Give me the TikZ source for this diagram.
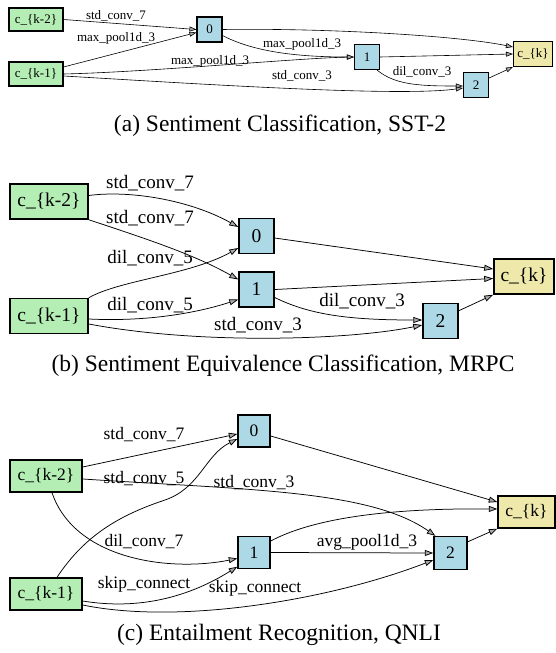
\documentclass[tikz,border=0pt]{standalone}
\usepackage{fontspec}
\setmainfont{Liberation Serif}
\usetikzlibrary{arrows.meta,calc}
\definecolor{nodegreen}{HTML}{B4EEB4}
\definecolor{nodeblue}{HTML}{ADD8E6}
\definecolor{nodegold}{HTML}{EEE8AA}
\definecolor{tipgray}{HTML}{A8A8A8}
\tikzset{
  cell/.style={draw=black, rectangle, inner sep=0pt},
  inbox/.style={cell, fill=nodegreen},
  midbox/.style={cell, fill=nodeblue},
  outbox/.style={cell, fill=nodegold},
  sizeA/.style={line width=1.1pt, font=\fontsize{13}{13}\selectfont},
  sizeB/.style={line width=1.5pt, font=\fontsize{19.5}{19.5}\selectfont},
  sizeC/.style={line width=1.4pt, font=\fontsize{17.5}{17.5}\selectfont},
  lblA/.style={inner sep=0pt, font=\fontsize{13}{13}\selectfont},
  lblB/.style={inner sep=0pt, font=\fontsize{19}{19}\selectfont},
  lblC/.style={inner sep=0pt, font=\fontsize{17.5}{17.5}\selectfont},
  edgeA/.style={line width=0.6pt, -{Triangle[length=7pt,width=5pt,fill=tipgray]}},
  edgeB/.style={line width=0.75pt, -{Triangle[length=9pt,width=6pt,fill=tipgray]}},
  edgeC/.style={line width=0.75pt, -{Triangle[length=8.5pt,width=6pt,fill=tipgray]}},
  captext/.style={inner sep=0pt, font=\fontsize{23.5}{23.5}\selectfont}
}
\begin{document}
\begin{tikzpicture}[x=1pt,y=-1pt]
\useasboundingbox (0,0) rectangle (555,653);
\fill[white] (0,0) rectangle (555,653);

% ---------------- Panel (a) ----------------
\node[inbox, sizeA, minimum width=54pt, minimum height=23pt] (ak2) at (36,19.5) {c\_\{k-2\}};
\node[inbox, sizeA, minimum width=54pt, minimum height=24pt] (ak1) at (36,74) {c\_\{k-1\}};
\node[midbox, sizeA, minimum width=25pt, minimum height=25pt] (a0) at (209.5,29.5) {0};
\node[midbox, sizeA, minimum width=25pt, minimum height=25pt] (a1) at (367,57) {1};
\node[midbox, sizeA, minimum width=25pt, minimum height=25pt] (a2) at (476,85) {2};
\node[outbox, sizeA, minimum width=39pt, minimum height=25pt] (ak) at (533,54) {c\_\{k\}};

\draw[edgeA] (ak2.east) -- (a0.west);
\draw[edgeA] ([yshift=7pt]ak1.east) -- ([yshift=-3pt]a0.west);
\draw[edgeA] (ak1.east) .. controls (150,72) and (300,58) .. (a1.west);
\draw[edgeA] ([yshift=-2pt]ak1.east) .. controls (200,84) and (400,97) .. ([yshift=-3pt]a2.west);
\draw[edgeA] ([yshift=-6pt]a0.east) .. controls (250,50) and (290,57) .. (a1.west);
\draw[edgeA] (a0.east) .. controls (330,28) and (460,36) .. ([yshift=7pt]ak.west);
\draw[edgeA] (a1.east) -- (ak.west);
\draw[edgeA] ([xshift=-3pt]a1.south east) .. controls (395,85) and (420,86) .. ([yshift=-1pt]a2.west);
\draw[edgeA] ([yshift=7pt]a2.east) -- (ak.south west);

\node[lblA] (la1) at (116,16) {std\_conv\_7};
\node[lblA] (la2) at (116,38) {max\_pool1d\_3};
\node[lblA] (la3) at (302,44) {max\_pool1d\_3};
\node[lblA] (la4) at (210,61.5) {max\_pool1d\_3};
\node[lblA] (la5) at (302,76) {std\_conv\_3};
\node[lblA] (la6) at (422,72) {dil\_conv\_3};

\node[captext] (capA) at (280,126) {(a) Sentiment Classification, SST-2};

% ---------------- Panel (b) ----------------
\node[inbox, sizeB, minimum width=78pt, minimum height=35pt] (bk2) at (49,201.5) {c\_\{k-2\}};
\node[inbox, sizeB, minimum width=78pt, minimum height=35pt] (bk1) at (49,316) {c\_\{k-1\}};
\node[midbox, sizeB, minimum width=35pt, minimum height=35pt] (b0) at (256.5,236) {0};
\node[midbox, sizeB, minimum width=35pt, minimum height=35pt] (b1) at (256.5,289.5) {1};
\node[midbox, sizeB, minimum width=35pt, minimum height=35pt] (b2) at (440.5,321) {2};
\node[outbox, sizeB, minimum width=60pt, minimum height=35pt] (bk) at (524,276.5) {c\_\{k\}};

\draw[edgeB] ([yshift=6pt]bk2.east) .. controls (130,190) and (190,200) .. ([yshift=9pt]b0.west);
\draw[edgeB] (bk2.south east) .. controls (150,240) and (195,255) .. ([yshift=10pt]b1.west);
\draw[edgeB] (bk1.north east) .. controls (120,280) and (190,275) .. ([yshift=-12pt]b0.west);
\draw[edgeB] ([yshift=-3pt]bk1.east) .. controls (150,322) and (200,312) .. ([yshift=-10pt]b1.west);
\draw[edgeB] ([yshift=-8pt]bk1.east) .. controls (200,345) and (350,340) .. ([yshift=-4pt]b2.west);
\draw[edgeB] ([yshift=-2pt]b0.east) -- ([yshift=7.5pt]bk.west);
\draw[edgeB] (b1.east) -- ([yshift=-2pt]bk.west);
\draw[edgeB] ([yshift=-8pt]b1.east) .. controls (310,315) and (350,320) .. ([yshift=1pt]b2.west);
\draw[edgeB] ([yshift=-8pt]b2.north east) -- (bk.south west);

\node[lblB] (lb1) at (150,183) {std\_conv\_7};
\node[lblB] (lb2) at (150,218) {std\_conv\_7};
\node[lblB] (lb3) at (150,258) {dil\_conv\_5};
\node[lblB] (lb4) at (150,305) {dil\_conv\_5};
\node[lblB] (lb5) at (362,301) {dil\_conv\_3};
\node[lblB] (lb6) at (258,325) {std\_conv\_3};

\node[captext] (capB) at (283,366) {(b) Sentiment Equivalence Classification, MRPC};

% ---------------- Panel (c) ----------------
\node[inbox, sizeC, minimum width=72pt, minimum height=32pt] (ck2) at (46,476) {c\_\{k-2\}};
\node[inbox, sizeC, minimum width=72pt, minimum height=32pt] (ck1) at (46,594) {c\_\{k-1\}};
\node[midbox, sizeC, minimum width=32pt, minimum height=32pt] (c0) at (254,431) {0};
\node[midbox, sizeC, minimum width=32pt, minimum height=32pt] (c1) at (254,552.5) {1};
\node[midbox, sizeC, minimum width=33pt, minimum height=33pt] (c2) at (450.5,553) {2};
\node[outbox, sizeC, minimum width=57pt, minimum height=32pt] (ck) at (526.5,512) {c\_\{k\}};

\draw[edgeC] ([yshift=9pt]ck2.east) -- ([yshift=-3pt]c0.west);
\draw[edgeC] ([yshift=-3pt]ck2.east) .. controls (250,490) and (370,490) .. ([xshift=2pt]c2.north west);
\draw[edgeC] ([xshift=6pt]ck2.south) .. controls (75,560) and (170,572) .. ([yshift=-6pt]c1.west);
\draw[edgeC] ([xshift=11pt]ck1.north) .. controls (85,535) and (120,515) .. (165,500) .. controls (200,488) and (205,455) .. ([yshift=-8pt]c0.west);
\draw[edgeC] ([yshift=-7pt]ck1.east) .. controls (150,612) and (200,590) .. ([yshift=2.5pt]c1.south west);
\draw[edgeC] ([yshift=-11pt]ck1.east) .. controls (180,625) and (330,600) .. ([yshift=-7pt]c2.west);
\draw[edgeC] (c1.east) -- (c2.west);
\draw[edgeC] ([yshift=11.5pt]c1.east) .. controls (310,520) and (380,508) .. ([yshift=3pt]ck.west);
\draw[edgeC] ([yshift=-5pt]c0.east) -- ([yshift=10pt]ck.west);
\draw[edgeC] ([yshift=-6pt]c2.north east) -- (ck.south west);

\node[lblC] (lc1) at (144,435) {std\_conv\_7};
\node[lblC] (lc2) at (144,479) {std\_conv\_5};
\node[lblC] (lc3) at (254,483) {std\_conv\_3};
\node[lblC] (lc4) at (144,542) {dil\_conv\_7};
\node[lblC] (lc5) at (144,584) {skip\_connect};
\node[lblC] (lc6) at (255,588) {skip\_connect};
\node[lblC] (lc7) at (367,542) {avg\_pool1d\_3};

\node[captext] (capC) at (279,635) {(c) Entailment Recognition, QNLI};
\end{tikzpicture}
\end{document}
